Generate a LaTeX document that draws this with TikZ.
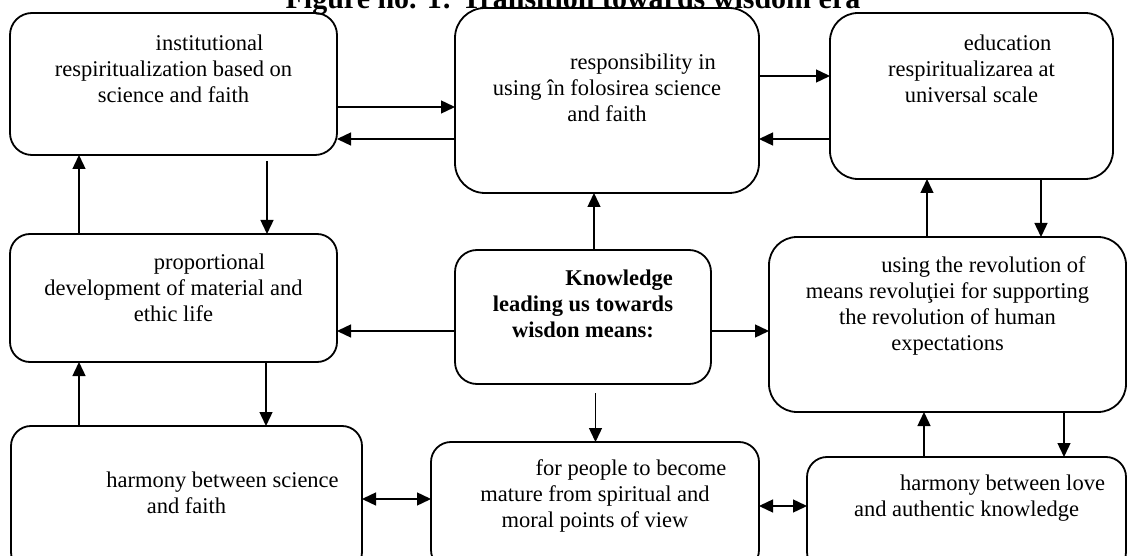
\documentclass[tikz,border=0pt]{standalone}
\usepackage{fontspec}
\setmainfont{Liberation Serif}
\usetikzlibrary{arrows.meta}
\begin{document}
\begin{tikzpicture}[x=1pt,y=-1pt,
  box/.style={draw, line width=1.8pt, outer sep=0pt, inner sep=0pt},
  txt/.style={align=center, inner sep=0pt, anchor=north, font=\fontsize{22.5}{26}\selectfont},
  arr/.style={line width=1.4pt, -{Triangle[length=14pt,width=13pt]}},
  darr/.style={line width=1.4pt, {Triangle[length=14pt,width=13pt]}-{Triangle[length=14pt,width=13pt]}}]
\useasboundingbox (0,0) rectangle (1128,556);
\clip (0,0) rectangle (1128,556);

% title (cut off at the top, as in the reference)
\node[inner sep=0pt, anchor=base, font=\bfseries\fontsize{30}{34}\selectfont] (title) at (573,9) {Figure no. 1: Transition towards wisdom era};

% boxes
\node[box, rounded corners=22pt, minimum width=327pt, minimum height=142pt] (A) at (173.5,84) {};
\node[box, rounded corners=30pt, minimum width=304pt, minimum height=185pt] (B) at (607,100.5) {};
\node[box, rounded corners=28pt, minimum width=283pt, minimum height=166pt] (C) at (971.5,96) {};
\node[box, rounded corners=20pt, minimum width=327pt, minimum height=128pt] (D) at (173.5,298) {};
\node[box, rounded corners=22pt, minimum width=256pt, minimum height=134pt] (E) at (583,317) {};
\node[box, rounded corners=28pt, minimum width=357pt, minimum height=175pt] (F) at (947.5,324.5) {};
\node[box, rounded corners=20pt, minimum width=351pt, minimum height=146pt] (G) at (186.5,499) {};
\node[box, rounded corners=20pt, minimum width=328pt, minimum height=128pt] (H) at (595,506) {};
\node[box, rounded corners=20pt, minimum width=319pt, minimum height=115pt] (I) at (966.5,514.5) {};

% texts
\node[txt] (At) at (173.5,31.8) {\strut\hspace*{72pt}institutional\\respiritualization based on\\science and faith};
\node[txt] (Bt) at (607,50.8) {\strut\hspace*{72pt}responsibility in\\using în folosirea science\\and faith};
\node[txt] (Ct) at (971.5,31.8) {\strut\hspace*{72pt}education\\respiritualizarea at\\universal scale};
\node[txt] (Dt) at (173.5,250.8) {\strut\hspace*{72pt}proportional\\development of material and\\ethic life};
\node[txt, font=\bfseries\fontsize{22.5}{26}\selectfont] (Et) at (583,266.8) {\strut\hspace*{72pt}Knowledge\\leading us towards\\wisdon means:};
\node[txt] (Ft) at (947.5,253.8) {\strut\hspace*{72pt}using the revolution of\\means revoluţiei for supporting\\the revolution of human\\expectations};
\node[txt] (Gt) at (186.5,468.8) {\strut\hspace*{72pt}harmony between science\\and faith};
\node[txt] (Ht) at (595,456.8) {\strut\hspace*{72pt}for people to become\\mature from spiritual and\\moral points of view};
\node[txt] (It) at (966.5,471.8) {\strut\hspace*{72pt}harmony between love\\and authentic knowledge};

% connectors
\draw[arr] ([yshift=-23pt]A.east) -- ([yshift=-23pt]A.east -| B.west);
\draw[arr] ([yshift=-55pt]A.east -| B.west) -- ([yshift=-55pt]A.east);
\draw[arr] ([yshift=24.5pt]B.east) -- ([yshift=24.5pt]B.east -| C.west);
\draw[arr] ([yshift=-38.5pt]B.east -| C.west) -- ([yshift=-38.5pt]B.east);
\draw[arr] ([xshift=93.5pt]A.south) ++(0,6) -- ([xshift=93.5pt]D.north);
\draw[arr] ([xshift=-94.5pt]D.north) -- ([xshift=-94.5pt]A.south);
\draw[arr] ([xshift=11pt]E.north) -- ([xshift=11pt]E.north |- B.south);
\draw[arr] ([yshift=-14pt]E.west) -- ([yshift=-14pt]E.west -| D.east);
\draw[arr] ([yshift=-14pt]E.east) -- ([yshift=-14pt]E.east -| F.west);
\draw[arr] ([xshift=12.5pt]E.south) ++(0,9) -- ([xshift=12.5pt]E.south |- H.north);
\draw[arr] ([xshift=-20.5pt]F.north) -- ([xshift=-20.5pt]F.north |- C.south);
\draw[arr] ([xshift=69.5pt]C.south) -- ([xshift=69.5pt]C.south |- F.north);
\draw[arr] ([xshift=-42.5pt]I.north) -- ([xshift=-42.5pt]I.north |- F.south);
\draw[arr] ([xshift=116.5pt]F.south) -- ([xshift=116.5pt]F.south |- I.north);
\draw[arr] ([xshift=92.5pt]D.south) -- ([xshift=92.5pt]D.south |- G.north);
\draw[arr] ([xshift=-107.5pt]G.north) -- ([xshift=-107.5pt]G.north |- D.south);
\draw[darr] (G.east) -- (G.east -| H.west);
\draw[darr] (H.east) -- (H.east -| I.west);
\end{tikzpicture}
\end{document}
